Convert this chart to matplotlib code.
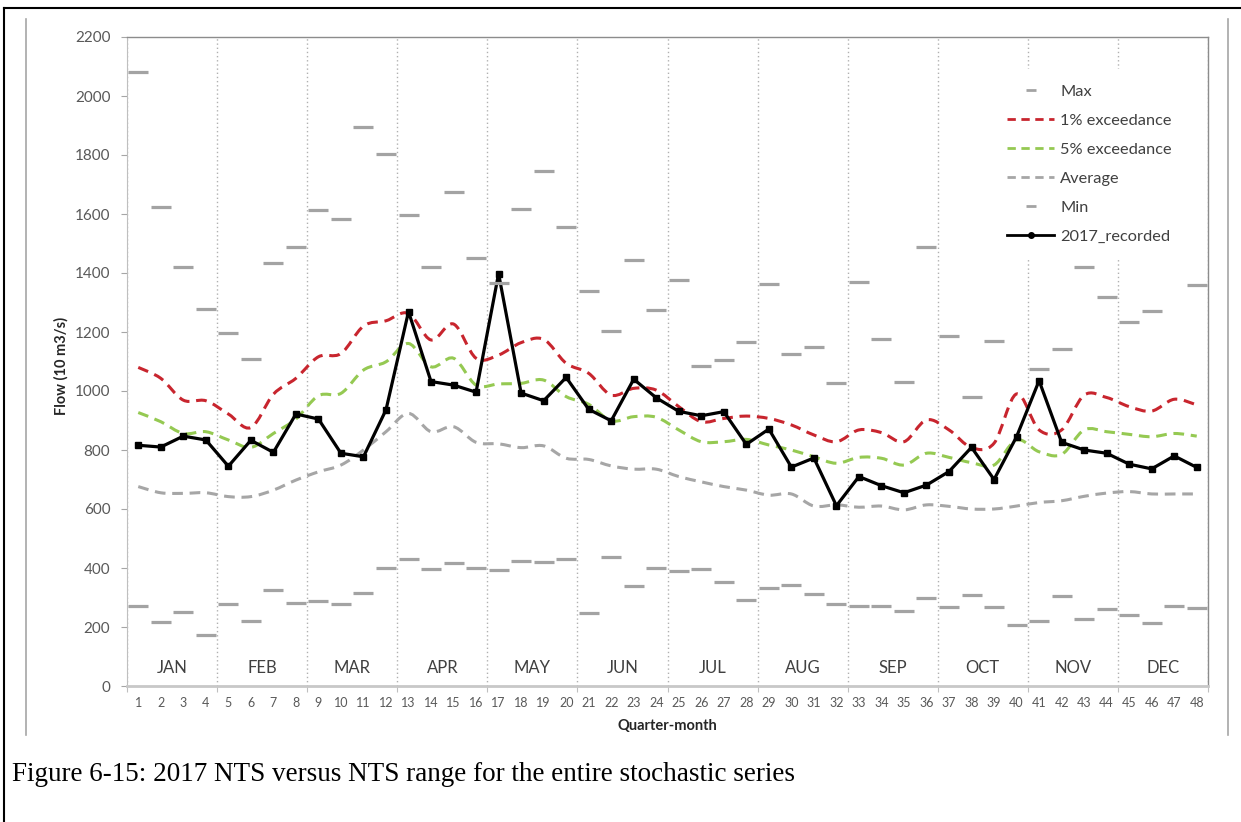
import numpy as np
import matplotlib.pyplot as plt
from matplotlib.lines import Line2D
from matplotlib.path import Path
from matplotlib.patches import PathPatch

plt.rcParams['font.family'] = ['Lato', 'DejaVu Sans']

months = ['JAN', 'FEB', 'MAR', 'APR', 'MAY', 'JUN', 'JUL', 'AUG', 'SEP', 'OCT', 'NOV', 'DEC']
quarter = np.arange(1, 49)

max_flow = [2080, 1624, 1421, 1279, 1197, 1108, 1435, 1489, 1614, 1584, 1894, 1802,
            1598, 1419, 1676, 1451, 1365, 1616, 1747, 1555, 1340, 1203, 1443, 1275,
            1377, 1086, 1105, 1167, 1362, 1124, 1150, 1028, 1369, 1175, 1030, 1489,
            1186, 981, 1170, 1700, 1073, 1143, 1419, 1319, 1235, 1272, 1600, 1358]
exc_1 = [1080, 1043, 969, 967, 922, 876, 989, 1043, 1116, 1127, 1220, 1238,
         1263, 1173, 1227, 1111, 1122, 1164, 1175, 1094, 1060, 986, 1009, 1003,
         947, 896, 907, 915, 907, 885, 851, 828, 868, 859, 828, 902,
         868, 808, 823, 990, 868, 868, 986, 978, 947, 932, 972, 953]
exc_5 = [927, 896, 856, 862, 834, 809, 856, 905, 984, 992, 1071, 1099,
         1161, 1082, 1111, 1020, 1024, 1026, 1037, 981, 955, 899, 913, 911,
         868, 828, 828, 836, 817, 800, 777, 755, 775, 772, 749, 789,
         775, 757, 749, 834, 794, 785, 868, 862, 853, 845, 856, 847]
average = [676, 655, 653, 655, 642, 642, 664, 698, 726, 749, 800, 862,
           924, 862, 879, 826, 821, 808, 814, 772, 768, 746, 735, 735,
           710, 692, 676, 664, 647, 651, 610, 614, 606, 610, 597, 614,
           609, 600, 600, 610, 622, 628, 643, 654, 659, 651, 651, 651]
min_flow = [270, 217, 252, 173, 278, 220, 325, 280, 289, 278, 314, 401,
            432, 395, 416, 401, 393, 423, 420, 429, 249, 436, 338, 401,
            391, 395, 354, 292, 333, 343, 313, 278, 272, 272, 254, 297,
            267, 308, 269, 206, 220, 306, 228, 260, 241, 212, 270, 265]
rec_2017 = [816, 810, 847, 834, 745, 833, 792, 922, 905, 789, 777, 936,
            1269, 1032, 1020, 996, 1398, 993, 967, 1046, 938, 899, 1040, 977,
            931, 916, 930, 819, 871, 742, 773, 611, 710, 679, 655, 681,
            727, 809, 700, 845, 1035, 826, 800, 789, 752, 736, 780, 741]


def smooth_line(ax, xs, ys, **kw):
    # excel-like smoothed line: cubic bezier through every data point
    xs = np.asarray(xs, float)
    ys = np.asarray(ys, float)
    n = len(xs)
    verts = [(xs[0], ys[0])]
    codes = [Path.MOVETO]
    for i in range(n - 1):
        a = max(i - 1, 0)
        b = min(i + 2, n - 1)
        c1 = (xs[i] + (xs[i + 1] - xs[a]) / 6, ys[i] + (ys[i + 1] - ys[a]) / 6)
        c2 = (xs[i + 1] - (xs[b] - xs[i]) / 6, ys[i + 1] - (ys[b] - ys[i]) / 6)
        verts += [c1, c2, (xs[i + 1], ys[i + 1])]
        codes += [Path.CURVE4] * 3
    ax.add_patch(PathPatch(Path(verts, codes), fill=False, capstyle='butt', **kw))


W, H = 1241, 822
fig = plt.figure(figsize=(W / 100, H / 100), dpi=100)
ax = fig.add_axes([127 / W, 1 - 686 / H, (1208 - 127) / W, (686 - 37) / H])

grey = '#a3a3a3'
dash = (0, (3.5, 2.2))
smooth_line(ax, quarter, average, ls=dash, lw=2.2, edgecolor='#a6a6a6', zorder=3)
smooth_line(ax, quarter, exc_5, ls=dash, lw=2.2, edgecolor='#95c952', zorder=3)
smooth_line(ax, quarter, exc_1, ls=dash, lw=2.2, edgecolor='#c8252e', zorder=3)
ax.plot(quarter, rec_2017, color='black', lw=2.3, marker='s', ms=5, zorder=4)
ax.plot(quarter, max_flow, ls='none', marker='_', ms=14, mew=2.3, color=grey, zorder=5)
ax.plot(quarter, min_flow, ls='none', marker='_', ms=14, mew=2.3, color=grey, zorder=5)

for i, m in enumerate(months):
    ax.text(4 * i + 2.5, 60, m, ha='center', va='center', fontsize=12, color='#404040')

ax.set_xlim(0.5, 48.5)
ax.set_ylim(0, 2200)
ax.set_yticks(np.arange(0, 2201, 200))
ax.set_xticks(np.arange(0.5, 49, 4))
ax.set_xticklabels([])
ax.set_xticks(quarter, minor=True)
ax.set_xticklabels([str(q) for q in quarter], minor=True)
ax.tick_params(axis='x', which='major', length=4, color='#bfbfbf')
ax.tick_params(axis='x', which='minor', length=0, pad=8, labelsize=9, labelcolor='#595959')
ax.tick_params(axis='y', length=4, color='#a6a6a6', pad=8, labelsize=11, labelcolor='#595959')
ax.grid(True, axis='x', which='major', color='#b0b0b0', ls=(0, (1, 2)), lw=1)
for s in ['top', 'right']:
    ax.spines[s].set_color('#8c8c8c')
    ax.spines[s].set_linewidth(1)
ax.spines['left'].set_color('#bfbfbf')
ax.spines['bottom'].set_color('#c8c8c8')
ax.spines['bottom'].set_linewidth(2)

handles = [
    Line2D([], [], ls='none', marker='_', ms=7, mew=2, color=grey),
    Line2D([], [], ls=(0, (3, 2)), lw=2, color='#c8252e'),
    Line2D([], [], ls=(0, (3, 2)), lw=2, color='#95c952'),
    Line2D([], [], ls=(0, (3, 2)), lw=2, color='#a6a6a6'),
    Line2D([], [], ls='none', marker='_', ms=7, mew=2, color=grey),
    Line2D([], [], color='black', lw=2, marker='o', ms=4),
]
labels = ['Max', '1% exceedance', '5% exceedance', 'Average', 'Min', '2017_recorded']
leg = ax.legend(handles, labels, loc='upper left', bbox_to_anchor=(983 / W, 1 - 61 / H),
                bbox_transform=fig.transFigure, fontsize=11.8, handlelength=2.9,
                handletextpad=0.35, labelspacing=0.88, borderpad=0.95,
                frameon=True, framealpha=1, edgecolor='none', fancybox=False)
leg.set_zorder(10)
for t in leg.get_texts():
    t.set_color('#404040')

fig.text(61 / W, 1 - 366 / H, 'Flow (10 m3/s)', rotation=90, ha='center', va='center',
         fontsize=10.5, fontweight='bold', color='#262626')
fig.text(667.5 / W, 1 - 726 / H, 'Quarter-month', ha='center', va='center',
         fontsize=10.5, fontweight='bold', color='#262626')

fig.text(12 / W, 1 - 774 / H, 'Figure 6-15: 2017 NTS versus NTS range for the entire stochastic series',
         family='Liberation Serif', fontsize=19.5, va='center', color='black')

# frames around the figure
fig.add_artist(Line2D([4 / W, 4 / W], [0, 1 - 8 / H], transform=fig.transFigure, color='black', lw=1.5))
fig.add_artist(Line2D([4 / W, 1], [1 - 8 / H, 1 - 8 / H], transform=fig.transFigure, color='black', lw=1.5))
for xf in [26 / W, 1228 / W]:
    fig.add_artist(Line2D([xf, xf], [1 - 735 / H, 1 - 19 / H], transform=fig.transFigure,
                          color='#a6a6a6', lw=1.2))

fig.savefig('out.png', dpi=100)
